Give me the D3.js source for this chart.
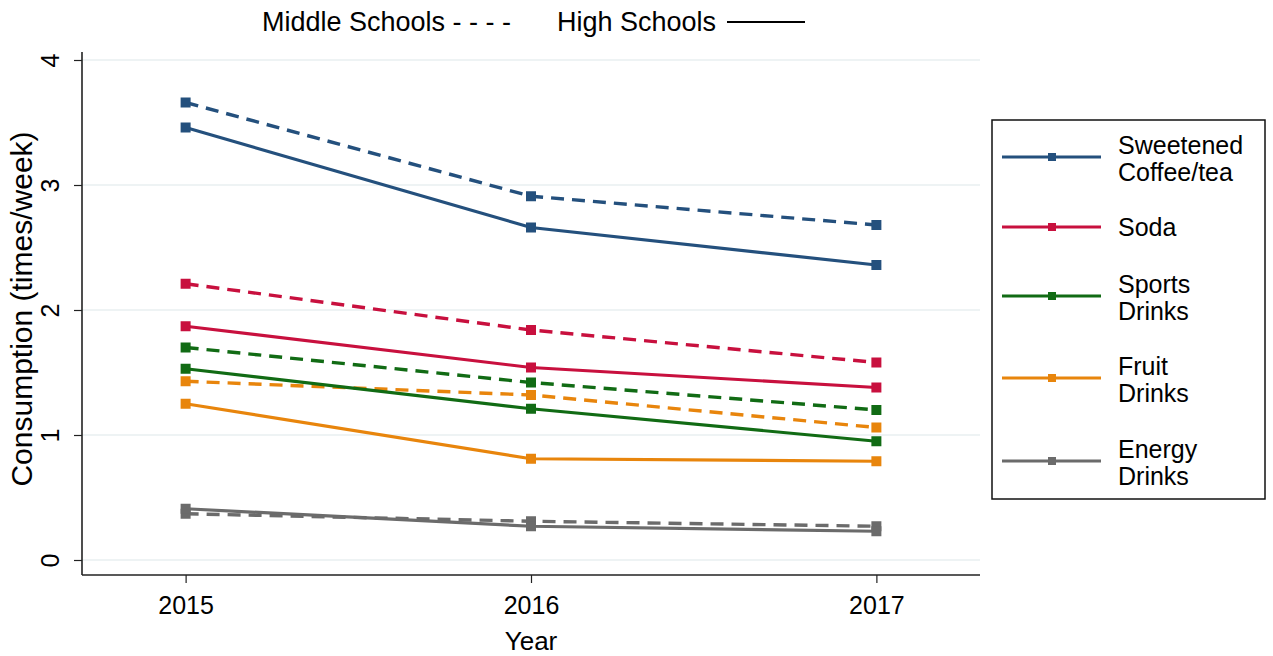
<!DOCTYPE html>
<html><head><meta charset="utf-8">
<script src="https://cdn.jsdelivr.net/npm/d3@7"></script>
<style>
html,body{margin:0;padding:0;background:#fff;}
svg{display:block;font-family:"Liberation Sans",Arial,Helvetica,sans-serif;}
</style></head>
<body>
<svg id="chart" width="1273" height="656"></svg>
<script>
const years = [2015, 2016, 2017];
const categories = ["Sweetened Coffee/tea", "Soda", "Sports Drinks", "Fruit Drinks", "Energy Drinks"];
const legendLines = [["Sweetened", "Coffee/tea"], ["Soda"], ["Sports", "Drinks"], ["Fruit", "Drinks"], ["Energy", "Drinks"]];
const colors = ["#24507d", "#c8103e", "#116b14", "#e8850c", "#6b6b6b"];
// Middle schools (dashed)
const middleCoffee = [3.66, 2.91, 2.68];
const middleSoda   = [2.21, 1.84, 1.58];
const middleSports = [1.70, 1.42, 1.20];
const middleFruit  = [1.43, 1.32, 1.06];
const middleEnergy = [0.37, 0.31, 0.27];
// High schools (solid)
const highCoffee = [3.46, 2.66, 2.36];
const highSoda   = [1.87, 1.54, 1.38];
const highSports = [1.53, 1.21, 0.95];
const highFruit  = [1.25, 0.81, 0.79];
const highEnergy = [0.41, 0.27, 0.23];
const yTicks = [0, 1, 2, 3, 4];
const xTicks = [2015, 2016, 2017];

const middle = [middleCoffee, middleSoda, middleSports, middleFruit, middleEnergy];
const high = [highCoffee, highSoda, highSports, highFruit, highEnergy];

const svg = d3.select("#chart");
const L = 82, R = 980, T = 52, B = 575;
const x = d3.scaleLinear().domain([2014.7, 2017.3]).range([L, R]);
const y = d3.scaleLinear().domain([0, 4]).range([560, 60]);

// gridlines
svg.append("g").selectAll("line").data(yTicks).join("line")
  .attr("x1", L).attr("x2", R).attr("y1", d => y(d)).attr("y2", d => y(d))
  .attr("stroke", "#e9eff1").attr("stroke-width", 1.5);

// axes
const yAxis = svg.append("g").attr("transform", `translate(${L},0)`)
  .call(d3.axisLeft(y).tickValues(yTicks).tickSize(8).tickPadding(0).tickFormat(d3.format("d")));
yAxis.select(".domain").remove();
yAxis.selectAll(".tick line").attr("stroke", "#222").attr("stroke-width", 1.2);
yAxis.selectAll(".tick text").attr("font-size", 25).attr("fill", "#000")
  .attr("text-anchor", "middle").attr("x", 0).attr("dy", 0)
  .attr("transform", "translate(-23,0) rotate(-90)");
svg.append("line").attr("x1", L).attr("x2", L).attr("y1", T).attr("y2", B)
  .attr("stroke", "#222").attr("stroke-width", 1.6);

const xAxis = svg.append("g").attr("transform", `translate(0,${B})`)
  .call(d3.axisBottom(x).tickValues(xTicks).tickSize(8).tickPadding(13).tickFormat(d3.format("d")));
xAxis.select(".domain").remove();
xAxis.selectAll(".tick line").attr("stroke", "#222").attr("stroke-width", 1.2);
xAxis.selectAll(".tick text").attr("font-size", 25).attr("fill", "#000");
svg.append("line").attr("x1", L).attr("x2", R).attr("y1", B).attr("y2", B)
  .attr("stroke", "#222").attr("stroke-width", 1.6);

// axis titles
svg.append("text").attr("x", 531).attr("y", 650).attr("text-anchor", "middle")
  .attr("font-size", 26).text("Year");
svg.append("text").attr("transform", "translate(32,309) rotate(-90)").attr("text-anchor", "middle")
  .attr("font-size", 30).text("Consumption (times/week)");

// series
const line = d3.line().x((d, i) => x(years[i])).y(d => y(d));
function drawSeries(vals, color, dashed) {
  const g = svg.append("g");
  g.append("path").attr("d", line(vals)).attr("fill", "none").attr("stroke", color)
    .attr("stroke-width", dashed ? 3.4 : 3.2).attr("stroke-dasharray", dashed ? "13,8" : null);
  g.selectAll("rect").data(vals).join("rect")
    .attr("x", (d, i) => x(years[i]) - 5).attr("y", d => y(d) - 5)
    .attr("width", 10).attr("height", 10).attr("fill", color);
}
categories.forEach((c, i) => drawSeries(middle[i], colors[i], true));
categories.forEach((c, i) => drawSeries(high[i], colors[i], false));

// top legend
svg.append("text").attr("x", 262).attr("y", 31).attr("font-size", 27).text("Middle Schools - - - -");
svg.append("text").attr("x", 557).attr("y", 31).attr("font-size", 27).text("High Schools");
svg.append("line").attr("x1", 727).attr("x2", 805).attr("y1", 22).attr("y2", 22)
  .attr("stroke", "#000").attr("stroke-width", 2);

// right legend
svg.append("rect").attr("x", 992).attr("y", 120).attr("width", 273).attr("height", 379)
  .attr("fill", "#fff").attr("stroke", "#111").attr("stroke-width", 1.5);
const legY = [157, 227, 296, 378, 461];
const lg = svg.append("g").selectAll("g").data(categories).join("g");
lg.append("line").attr("x1", 1002).attr("x2", 1101).attr("y1", (d, i) => legY[i]).attr("y2", (d, i) => legY[i])
  .attr("stroke", (d, i) => colors[i]).attr("stroke-width", 3.2);
lg.append("rect").attr("x", 1048).attr("y", (d, i) => legY[i] - 4).attr("width", 8).attr("height", 8)
  .attr("fill", (d, i) => colors[i]);
lg.each(function(d, i) {
  const lines = legendLines[i];
  const t = d3.select(this).append("text").attr("font-size", 25).attr("fill", "#000");
  const start = lines.length === 1 ? legY[i] + 9 : legY[i] - 3;
  lines.forEach((s, j) => t.append("tspan").attr("x", 1118).attr("y", start + j * 27).text(s));
});
</script>
</body></html>
